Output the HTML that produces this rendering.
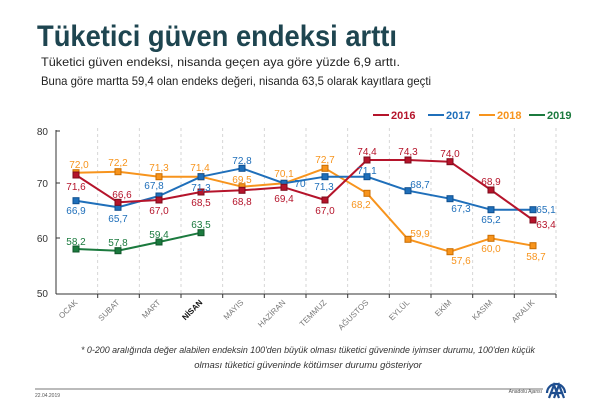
<!DOCTYPE html>
<html><head><meta charset="utf-8"><style>
html,body{margin:0;padding:0;background:#fff}
svg{display:block}
text{font-family:"Liberation Sans",sans-serif}
</style></head><body>
<svg width="600" height="412" viewBox="0 0 600 412" xmlns="http://www.w3.org/2000/svg">
<rect width="600" height="412" fill="#fff"/>
<text x="37" y="46" font-size="30" font-weight="bold" fill="#1e4550" textLength="360" lengthAdjust="spacingAndGlyphs">Tüketici güven endeksi arttı</text>
<text x="41" y="66" font-size="12" fill="#222" textLength="359" lengthAdjust="spacingAndGlyphs">Tüketici güven endeksi, nisanda geçen aya göre yüzde 6,9 arttı.</text>
<text x="41" y="85" font-size="12" fill="#222" textLength="390" lengthAdjust="spacingAndGlyphs">Buna göre martta 59,4 olan endeks değeri, nisanda 63,5 olarak kayıtlara geçti</text>

<g font-size="11" font-weight="bold">
<line x1="373" y1="115" x2="389" y2="115" stroke="#b5142b" stroke-width="2"/><text x="391" y="119" fill="#b5142b">2016</text>
<line x1="428" y1="115" x2="444" y2="115" stroke="#1f6fba" stroke-width="2"/><text x="446" y="119" fill="#1f6fba">2017</text>
<line x1="479" y1="115" x2="495" y2="115" stroke="#f7941d" stroke-width="2"/><text x="497" y="119" fill="#f7941d">2018</text>
<line x1="529" y1="115" x2="545" y2="115" stroke="#1b7a3e" stroke-width="2"/><text x="547" y="119" fill="#1b7a3e">2019</text>
</g>

<g stroke="#ccc" stroke-dasharray="3,3" stroke-width="0.8">
<line x1="97.7" y1="128" x2="97.7" y2="294"/><line x1="139.3" y1="128" x2="139.3" y2="294"/><line x1="181" y1="128" x2="181" y2="294"/><line x1="222.7" y1="128" x2="222.7" y2="294"/><line x1="264.3" y1="128" x2="264.3" y2="294"/><line x1="306" y1="128" x2="306" y2="294"/><line x1="347.7" y1="128" x2="347.7" y2="294"/><line x1="389.3" y1="128" x2="389.3" y2="294"/><line x1="431" y1="128" x2="431" y2="294"/><line x1="472.7" y1="128" x2="472.7" y2="294"/><line x1="514.3" y1="128" x2="514.3" y2="294"/><line x1="556" y1="128" x2="556" y2="294"/>
</g>
<g stroke="#333" stroke-width="1">
<line x1="56" y1="130" x2="56" y2="294"/><line x1="56" y1="294" x2="556" y2="294"/>
<line x1="56" y1="131" x2="60" y2="131"/><line x1="56" y1="183" x2="60" y2="183"/><line x1="56" y1="238" x2="60" y2="238"/>
<line x1="97.7" y1="294" x2="97.7" y2="298"/><line x1="139.3" y1="294" x2="139.3" y2="298"/><line x1="181" y1="294" x2="181" y2="298"/><line x1="222.7" y1="294" x2="222.7" y2="298"/><line x1="264.3" y1="294" x2="264.3" y2="298"/><line x1="306" y1="294" x2="306" y2="298"/><line x1="347.7" y1="294" x2="347.7" y2="298"/><line x1="389.3" y1="294" x2="389.3" y2="298"/><line x1="431" y1="294" x2="431" y2="298"/><line x1="472.7" y1="294" x2="472.7" y2="298"/><line x1="514.3" y1="294" x2="514.3" y2="298"/><line x1="556" y1="294" x2="556" y2="298"/>
</g>
<g font-size="10" fill="#333" text-anchor="end">
<text x="48" y="135">80</text><text x="48" y="187">70</text><text x="48" y="242">60</text><text x="48" y="297">50</text>
</g>
<g font-size="8" fill="#777" text-anchor="end">
<text transform="translate(78,303) rotate(-45)">OCAK</text>
<text transform="translate(120,303) rotate(-45)">SUBAT</text>
<text transform="translate(161,303) rotate(-45)">MART</text>
<text transform="translate(203,303) rotate(-45)" fill="#111" font-weight="bold">NİSAN</text>
<text transform="translate(244,303) rotate(-45)">MAYIS</text>
<text transform="translate(286,303) rotate(-45)">HAZİRAN</text>
<text transform="translate(327,303) rotate(-45)">TEMMUZ</text>
<text transform="translate(369,303) rotate(-45)">AĞUSTOS</text>
<text transform="translate(410,303) rotate(-45)">EYLÜL</text>
<text transform="translate(452,303) rotate(-45)">EKİM</text>
<text transform="translate(493,303) rotate(-45)">KASIM</text>
<text transform="translate(535,303) rotate(-45)">ARALIK</text>
</g>

<g fill="none" stroke-width="2" stroke-linejoin="round">
<polyline stroke="#f7941d" points="76,172.7 118,171.7 159,176.7 201,176.7 242,186.7 284,183.3 325,168.3 367,193.3 408,239.3 450,251.7 491,238.3 533,245.7"/>
<polyline stroke="#1f6fba" points="76,200.7 118,207.3 159,196 201,176.7 242,168.3 284,183.3 325,176.7 367,176.7 408,190.7 450,198.7 491,209.7 533,209.7"/>
<polyline stroke="#b5142b" points="76,175 118,202.3 159,200 201,192 242,190.3 284,187.3 325,200 367,160 408,160 450,161.7 491,190 533,220"/>
<polyline stroke="#1b7a3e" points="76,249 118,250.7 159,242 201,232.7"/>
</g>
<g stroke-width="1">
<g fill="#f7941d" stroke="#c96d00">
<rect x="73" y="169.7" width="6" height="6"/><rect x="115" y="168.7" width="6" height="6"/><rect x="156" y="173.7" width="6" height="6"/><rect x="198" y="173.7" width="6" height="6"/><rect x="239" y="183.7" width="6" height="6"/><rect x="281" y="180.3" width="6" height="6"/><rect x="322" y="165.3" width="6" height="6"/><rect x="364" y="190.3" width="6" height="6"/><rect x="405" y="236.3" width="6" height="6"/><rect x="447" y="248.7" width="6" height="6"/><rect x="488" y="235.3" width="6" height="6"/><rect x="530" y="242.7" width="6" height="6"/>
</g>
<g fill="#1f6fba" stroke="#0f4f8f">
<rect x="73" y="197.7" width="6" height="6"/><rect x="115" y="204.3" width="6" height="6"/><rect x="156" y="193" width="6" height="6"/><rect x="198" y="173.7" width="6" height="6"/><rect x="239" y="165.3" width="6" height="6"/><rect x="281" y="180.3" width="6" height="6"/><rect x="322" y="173.7" width="6" height="6"/><rect x="364" y="173.7" width="6" height="6"/><rect x="405" y="187.7" width="6" height="6"/><rect x="447" y="195.7" width="6" height="6"/><rect x="488" y="206.7" width="6" height="6"/><rect x="530" y="206.7" width="6" height="6"/>
</g>
<g fill="#b5142b" stroke="#7d0b1b">
<rect x="73" y="172" width="6" height="6"/><rect x="115" y="199.3" width="6" height="6"/><rect x="156" y="197" width="6" height="6"/><rect x="198" y="189" width="6" height="6"/><rect x="239" y="187.3" width="6" height="6"/><rect x="281" y="184.3" width="6" height="6"/><rect x="322" y="197" width="6" height="6"/><rect x="364" y="157" width="6" height="6"/><rect x="405" y="157" width="6" height="6"/><rect x="447" y="158.7" width="6" height="6"/><rect x="488" y="187" width="6" height="6"/><rect x="530" y="217" width="6" height="6"/>
</g>
<g fill="#1b7a3e" stroke="#0f5528">
<rect x="73" y="246" width="6" height="6"/><rect x="115" y="247.7" width="6" height="6"/><rect x="156" y="239" width="6" height="6"/><rect x="198" y="229.7" width="6" height="6"/>
</g>
</g>

<g font-size="10" text-anchor="middle">
<g fill="#f7941d">
<text x="79" y="168">72,0</text><text x="118" y="166">72,2</text><text x="159" y="171">71,3</text><text x="200" y="171">71,4</text><text x="242" y="183">69,5</text><text x="284" y="177">70,1</text><text x="325" y="163">72,7</text><text x="361" y="208">68,2</text><text x="420" y="237">59,9</text><text x="461" y="264">57,6</text><text x="491" y="252">60,0</text><text x="536" y="260">58,7</text>
</g>
<g fill="#1f6fba">
<text x="76" y="214">66,9</text><text x="118" y="222">65,7</text><text x="154" y="189">67,8</text><text x="201" y="191">71,3</text><text x="242" y="164">72,8</text><text x="300" y="187">70</text><text x="324" y="190">71,3</text><text x="367" y="174">71,1</text><text x="420" y="188">68,7</text><text x="461" y="212">67,3</text><text x="491" y="223">65,2</text><text x="546" y="213">65,1</text>
</g>
<g fill="#b5142b">
<text x="76" y="190">71,6</text><text x="122" y="198">66,6</text><text x="159" y="214">67,0</text><text x="201" y="206">68,5</text><text x="242" y="205">68,8</text><text x="284" y="202">69,4</text><text x="325" y="214">67,0</text><text x="367" y="155">74,4</text><text x="408" y="155">74,3</text><text x="450" y="157">74,0</text><text x="491" y="185">68,9</text><text x="546" y="228">63,4</text>
</g>
<g fill="#1b7a3e">
<text x="76" y="245">58,2</text><text x="118" y="246">57,8</text><text x="159" y="238">59,4</text><text x="201" y="228">63,5</text>
</g>
</g>

<g font-size="9.5" font-style="italic" fill="#333" text-anchor="middle">
<text x="308" y="353" textLength="454" lengthAdjust="spacingAndGlyphs">* 0-200 aralığında değer alabilen endeksin 100'den büyük olması tüketici güveninde iyimser durumu, 100'den küçük</text>
<text x="308" y="368">olması tüketici güveninde kötümser durumu gösteriyor</text>
</g>

<line x1="35" y1="389" x2="543" y2="389" stroke="#777" stroke-width="1"/>
<text x="35" y="397" font-size="5" fill="#555">22.04.2019</text>
<text x="542" y="393" font-size="5" fill="#555" text-anchor="end">Anadolu Ajansı</text>
<g fill="none" stroke="#1f4e8f" stroke-width="2.2">
<path d="M547 393 A9 9 0 0 1 565 393"/>
<path d="M549 398 L554 385 L559 398 M551.5 393 L556.5 393"/>
<path d="M554 398 L559 385 L564 398 M556.5 393 L561.5 393"/>
</g>
</svg>
</body></html>
